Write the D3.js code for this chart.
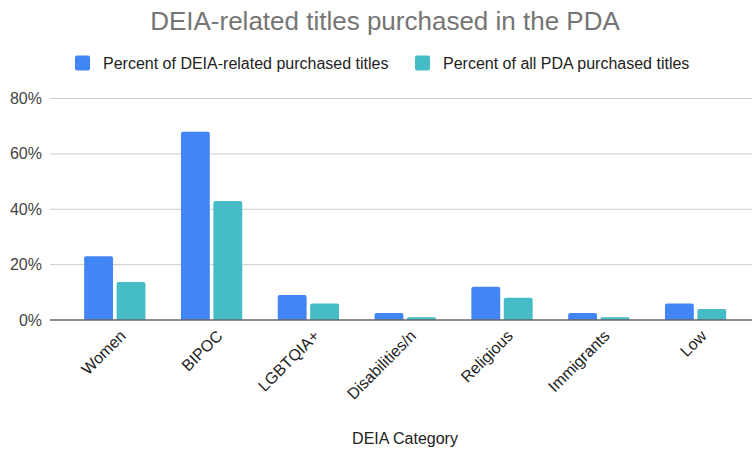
<!DOCTYPE html>
<html>
<head>
<meta charset="utf-8">
<script src="https://cdn.jsdelivr.net/npm/d3@7"></script>
<style>
  body { margin: 0; background: #fff; }
  svg { font-family: "Liberation Sans", Arial, sans-serif; }
</style>
</head>
<body>
<svg></svg>
<script>
// data
var categories = ["Women", "BIPOC", "LGBTQIA+", "Disabilities/n", "Religious", "Immigrants", "Low"];
var seriesNames = ["Percent of DEIA-related purchased titles", "Percent of all PDA purchased titles"];
var deiaPct = [23, 68, 9, 2.5, 12, 2.5, 6];
var allPct = [13.7, 43, 6, 1, 8, 1, 4];
var yTicks = [0, 20, 40, 60, 80];
var colors = ["#4285f4", "#46bdc6"];

var width = 752, height = 449;
var svg = d3.select("svg").attr("width", width).attr("height", height);

// scales
var x0 = d3.scaleBand()
  .domain(categories)
  .range([66.4, 744])
  .paddingInner(0.367)
  .paddingOuter(0.1835);

var x1 = d3.scaleBand()
  .domain([0, 1])
  .range([0, x0.bandwidth()])
  .paddingInner(0.11);

var y = d3.scaleLinear().domain([0, 80]).range([320, 98.5]);

// gridlines
svg.append("g").selectAll("line")
  .data(yTicks.filter(function(d) { return d > 0; }))
  .join("line")
  .attr("x1", 50).attr("x2", width)
  .attr("y1", function(d) { return y(d); })
  .attr("y2", function(d) { return y(d); })
  .style("stroke", "#cccccc")
  .style("stroke-width", 1);

// y tick labels
svg.append("g").selectAll("text")
  .data(yTicks)
  .join("text")
  .attr("x", 42)
  .attr("y", function(d) { return y(d); })
  .attr("dy", "0.35em")
  .attr("text-anchor", "end")
  .style("font-size", "16px")
  .style("fill", "#444")
  .text(function(d) { return d + "%"; });

// bars with slightly rounded tops
function barPath(x, w, top, bottom) {
  var r = Math.min(2, (bottom - top) / 2);
  return "M" + x + "," + bottom +
    "V" + (top + r) +
    "Q" + x + "," + top + " " + (x + r) + "," + top +
    "H" + (x + w - r) +
    "Q" + (x + w) + "," + top + " " + (x + w) + "," + (top + r) +
    "V" + bottom + "Z";
}

var rows = categories.map(function(c, i) {
  return { cat: c, vals: [deiaPct[i], allPct[i]] };
});

var groups = svg.append("g").selectAll("g")
  .data(rows)
  .join("g")
  .attr("transform", function(d) { return "translate(" + x0(d.cat) + ",0)"; });

groups.selectAll("path")
  .data(function(d) { return d.vals.map(function(v, k) { return { k: k, v: v }; }); })
  .join("path")
  .attr("d", function(d) { return barPath(x1(d.k), x1.bandwidth(), y(d.v), y(0)); })
  .style("fill", function(d) { return colors[d.k]; });

// baseline
svg.append("line")
  .attr("x1", 50).attr("x2", width)
  .attr("y1", y(0)).attr("y2", y(0))
  .style("stroke", "#666")
  .style("stroke-width", 1.5);

// x labels, rotated
svg.append("g").selectAll("text")
  .data(categories)
  .join("text")
  .attr("transform", function(d) {
    var cx = x0(d) + x0.bandwidth() / 2 + 8;
    return "translate(" + cx + ",333) rotate(-45)";
  })
  .attr("text-anchor", "end")
  .attr("dy", "0.35em")
  .style("font-size", "16px")
  .style("fill", "#222")
  .text(function(d) { return d; });

// axis title
svg.append("text")
  .attr("x", 405).attr("y", 444)
  .attr("text-anchor", "middle")
  .style("font-size", "16px")
  .style("fill", "#222")
  .text("DEIA Category");

// title
svg.append("text")
  .attr("x", 385).attr("y", 30)
  .attr("text-anchor", "middle")
  .style("font-size", "26px")
  .style("fill", "#757575")
  .text("DEIA-related titles purchased in the PDA");

// legend
var legendX = [75, 415];
var legend = svg.append("g").selectAll("g")
  .data(seriesNames)
  .join("g")
  .attr("transform", function(d, i) { return "translate(" + legendX[i] + ",63)"; });

legend.append("rect")
  .attr("x", 0).attr("y", -7.5)
  .attr("width", 15).attr("height", 15)
  .attr("rx", 2)
  .style("fill", function(d, i) { return colors[i]; });

legend.append("text")
  .attr("x", 28)
  .attr("dy", "0.35em")
  .style("font-size", "16px")
  .style("fill", "#222")
  .text(function(d) { return d; });
</script>
</body>
</html>
